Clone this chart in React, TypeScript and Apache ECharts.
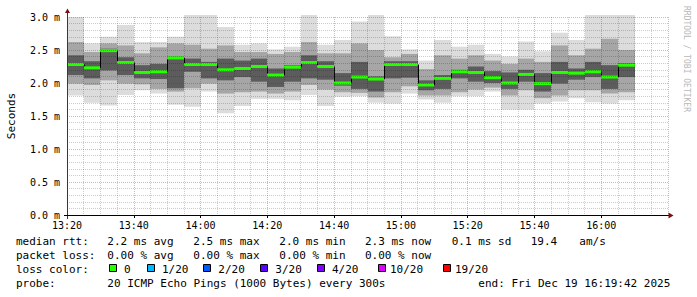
import React, { useEffect, useRef } from "react";
import * as echarts from "echarts";

// 5-minute slots (start time of each smoke bar)
const slotStart = [
  "13:20", "13:25", "13:30", "13:35", "13:40", "13:45", "13:50", "13:55",
  "14:00", "14:05", "14:10", "14:15", "14:20", "14:25", "14:30", "14:35",
  "14:40", "14:45", "14:50", "14:55", "15:00", "15:05", "15:10", "15:15",
  "15:20", "15:25", "15:30", "15:35", "15:40", "15:45", "15:50", "15:55",
  "16:00", "16:05",
];

// RTT distribution per slot, in ms
const maxV = [3.0, 2.6, 2.7, 2.88, 2.62, 2.62, 2.7, 3.03, 3.03, 2.85, 2.58, 2.6, 2.51, 2.55, 3.03, 2.58, 2.65, 2.93, 3.03, 2.71, 2.51, 2.34, 2.65, 2.55, 2.58, 2.44, 2.4, 2.63, 2.48, 2.76, 2.65, 3.03, 3.03, 3.03];
const p90 = [2.62, 2.47, 2.6, 2.57, 2.45, 2.54, 2.6, 2.58, 2.52, 2.57, 2.47, 2.47, 2.44, 2.47, 2.62, 2.45, 2.45, 2.6, 2.5, 2.39, 2.44, 2.21, 2.42, 2.37, 2.42, 2.34, 2.29, 2.37, 2.32, 2.57, 2.42, 2.52, 2.67, 2.5];
const p70 = [2.42, 2.33, 2.52, 2.39, 2.27, 2.29, 2.4, 2.37, 2.32, 2.37, 2.34, 2.37, 2.22, 2.27, 2.42, 2.33, 2.15, 2.32, 2.1, 2.33, 2.33, 2.04, 2.12, 2.2, 2.25, 2.18, 2.16, 2.2, 2.15, 2.32, 2.22, 2.32, 2.27, 2.3];
const median = [2.28, 2.23, 2.49, 2.31, 2.16, 2.17, 2.38, 2.28, 2.28, 2.2, 2.22, 2.25, 2.12, 2.24, 2.31, 2.25, 2.0, 2.09, 2.06, 2.28, 2.28, 1.97, 2.07, 2.17, 2.16, 2.08, 2.0, 2.13, 1.99, 2.16, 2.15, 2.17, 2.09, 2.27];
const p30 = [2.12, 2.07, 2.19, 2.12, 2.07, 2.06, 1.92, 2.17, 2.07, 2.04, 2.09, 2.02, 1.94, 2.02, 2.07, 2.05, 1.96, 1.91, 1.87, 2.07, 2.08, 1.89, 1.91, 2.07, 2.02, 2.0, 1.91, 2.02, 1.87, 1.99, 2.05, 2.09, 1.91, 2.09];
const p10 = [1.99, 1.97, 2.04, 1.99, 1.98, 1.91, 1.87, 1.92, 1.99, 1.84, 1.86, 1.87, 1.84, 1.87, 1.97, 1.9, 1.86, 1.85, 1.78, 1.86, 1.95, 1.81, 1.81, 1.86, 1.9, 1.93, 1.81, 1.89, 1.77, 1.81, 1.89, 1.89, 1.84, 1.86];
const minV = [1.81, 1.7, 1.66, 1.82, 1.89, 1.84, 1.67, 1.64, 1.87, 1.54, 1.65, 1.76, 1.76, 1.74, 1.82, 1.65, 1.79, 1.8, 1.7, 1.69, 1.84, 1.75, 1.7, 1.8, 1.8, 1.87, 1.6, 1.6, 1.69, 1.72, 1.77, 1.71, 1.69, 1.74];

// Legend content
const rttStats = ["2.2 ms avg", "2.5 ms max", "2.0 ms min", "2.3 ms now", "0.1 ms sd", "19.4", "am/s"];
const lossStats = ["0.00 % avg", "0.00 % max", "0.00 % min", "0.00 % now"];
const lossLabels = ["0", "1/20", "2/20", "3/20", "4/20", "10/20", "19/20"];
const lossColors = ["#26ff00", "#00b8ff", "#0059ff", "#5e00ff", "#7e00ff", "#dd00ff", "#ff0000"];
const probeText = "20 ICMP Echo Pings (1000 Bytes) every 300s";
const endText = "end: Fri Dec 19 16:19:42 2025";

const ORIGIN_MIN = 13 * 60 + 20;
const SLOT = 5;
const FONT = '"DejaVu Sans Mono", monospace';
const MAJOR = "rgba(200,0,0,0.33)";
const MINOR = "rgba(0,0,0,0.2)";

export default function App() {
  const ref = useRef<HTMLDivElement>(null);

  useEffect(() => {
    const chart = echarts.init(ref.current!, null, { renderer: "svg" });

    const data = slotStart.map((s, i) => {
      const [h, m] = s.split(":").map(Number);
      return [
        h * 60 + m - ORIGIN_MIN,
        minV[i], p10[i], p30[i], median[i], p70[i], p90[i], maxV[i],
        i > 0 ? median[i - 1] : median[i],
      ];
    });

    const renderItem = (params: any, api: any) => {
      const t0 = api.value(0);
      const x0 = Math.round(api.coord([t0, 0])[0]);
      const x1 = Math.round(api.coord([t0 + SLOT, 0])[0]);
      const yOf = (v: number) => api.coord([t0, v])[1];
      const band = (lo: number, hi: number, fill: string) => ({
        type: "rect",
        shape: { x: x0, y: yOf(hi), width: x1 - x0, height: yOf(lo) - yOf(hi) },
        style: { fill },
      });
      const med = api.value(4);
      const prev = api.value(8);
      const children: any[] = [
        band(api.value(1), api.value(7), "#dcdcdc"),
        band(api.value(2), api.value(6), "#a6a6a6"),
        band(api.value(3), api.value(5), "#5c5c5c"),
      ];
      if (params.dataIndex > 0) {
        children.push({
          type: "line",
          shape: { x1: x0 + 0.5, y1: yOf(prev), x2: x0 + 0.5, y2: yOf(med) },
          style: { stroke: "#000", lineWidth: 1 },
        });
      }
      children.push({
        type: "rect",
        shape: { x: x0, y: yOf(med) - 1.5, width: x1 - x0, height: 3 },
        style: { fill: lossColors[0] },
      });
      return { type: "group", children };
    };

    const txt = (text: string, x: number, y: number, extra: any = {}) => ({
      type: "text",
      x,
      y,
      z: 10,
      style: { text, fill: "#000", font: `11px ${FONT}`, verticalAlign: "middle", ...extra },
    });

    const rttX = [107.3, 193.3, 279.3, 365, 451.7, 530.7, 579.3];
    const squareX = [108.7, 146.7, 203.3, 260, 316.7, 378.3, 443.3];
    const lossLabelX = [124, 162, 218.3, 275.3, 332, 390, 455];

    const graphic: any[] = [
      // axes
      { type: "line", z: 10, shape: { x1: 67.5, y1: 219, x2: 67.5, y2: 12 }, style: { stroke: "#4b3030", lineWidth: 1 } },
      { type: "polygon", z: 10, shape: { points: [[65, 13], [70, 13], [67.5, 8.5]] }, style: { fill: "#7a1010" } },
      { type: "line", z: 10, shape: { x1: 64, y1: 215.5, x2: 669, y2: 215.5 }, style: { stroke: "#000", lineWidth: 1 } },
      { type: "polygon", z: 10, shape: { points: [[668.5, 212.5], [668.5, 218.5], [673.5, 215.5]] }, style: { fill: "#7a1010" } },
      // titles
      { type: "text", x: 11, y: 116, rotation: Math.PI / 2, z: 10, style: { text: "Seconds", fill: "#000", font: `11px ${FONT}`, align: "center", verticalAlign: "middle" } },
      { type: "text", x: 686, y: 59, rotation: -Math.PI / 2, z: 10, style: { text: "RRDTOOL / TOBI OETIKER", fill: "#b8b8b8", font: `8px ${FONT}`, align: "center", verticalAlign: "middle" } },
      // legend rows
      txt("median rtt:", 16, 241),
      ...rttStats.map((s, i) => txt(s, rttX[i], 241)),
      txt("packet loss:", 16, 255),
      ...lossStats.map((s, i) => txt(s, rttX[i], 255)),
      txt("loss color:", 16, 269),
      ...lossColors.map((c, i) => ({
        type: "rect",
        z: 10,
        shape: { x: Math.round(squareX[i]) + 0.5, y: 264.5, width: 7, height: 7 },
        style: { fill: c, stroke: "#000", lineWidth: 1 },
      })),
      ...lossLabels.map((s, i) => txt(s, lossLabelX[i], 269)),
      txt("probe:", 16, 283.5),
      txt(probeText, 107.3, 283.5),
      txt(endText, 478.3, 283.5),
    ];

    const option: any = {
      animation: false,
      backgroundColor: "#ffffff",
      grid: { left: 67, top: 17, width: 601, height: 198, containLabel: false },
      xAxis: {
        type: "value",
        min: 0,
        max: 180,
        interval: 20,
        z: 5,
        axisLine: { show: false },
        axisTick: { show: true, length: 3, lineStyle: { color: "#000" } },
        axisLabel: {
          margin: 5,
          showMaxLabel: false,
          fontFamily: FONT,
          fontSize: 10,
          color: "#000",
          formatter: (v: number) => {
            const t = ORIGIN_MIN + v;
            const h = Math.floor(t / 60);
            const m = t % 60;
            return `${h}:${m < 10 ? "0" + m : m}`;
          },
        },
        splitLine: { show: true, lineStyle: { color: MAJOR, width: 1, type: [1, 1] } },
        minorTick: { show: false, splitNumber: 4 },
        minorSplitLine: { show: true, lineStyle: { color: MINOR, width: 1, type: [1, 1] } },
      },
      yAxis: {
        type: "value",
        min: 0,
        max: 3,
        interval: 0.5,
        z: 5,
        axisLine: { show: false },
        axisTick: { show: false },
        axisLabel: {
          margin: 7,
          fontFamily: FONT,
          fontSize: 10,
          color: "#000",
          formatter: (v: number) => `${v.toFixed(1)} m`,
        },
        splitLine: { show: true, lineStyle: { color: MAJOR, width: 1, type: [1, 1] } },
        minorTick: { show: false, splitNumber: 5 },
        minorSplitLine: { show: true, lineStyle: { color: MINOR, width: 1, type: [1, 1] } },
      },
      series: [
        {
          type: "custom",
          z: 2,
          clip: false,
          renderItem,
          data,
          encode: { x: 0, y: [1, 7] },
        },
      ],
      graphic,
    };

    chart.setOption(option);
    return () => chart.dispose();
  }, []);

  return (
    <div
      ref={ref}
      style={{ position: "absolute", left: 0, top: 0, width: 697, height: 297, background: "#fff" }}
    />
  );
}
